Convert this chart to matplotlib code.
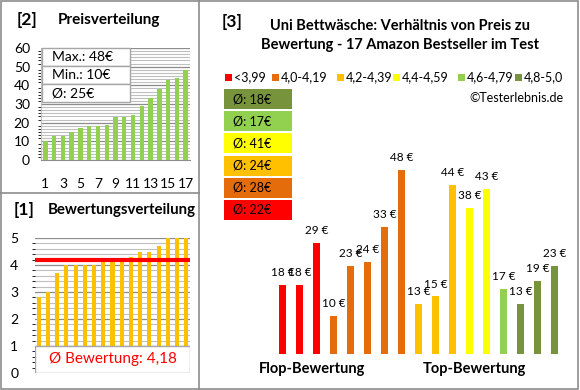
import numpy as np
import matplotlib
matplotlib.use("Agg")
import matplotlib.pyplot as plt
import matplotlib.patches as patches

plt.rcParams['font.family'] = ['Lato', 'DejaVu Sans']

# ---- data ----
preise_sortiert = [10, 13, 13, 15, 17, 18, 18, 19, 23, 23, 24, 29, 33, 38, 43, 44, 48]
bewertungen_sortiert = [2.8, 3.0, 3.7, 4.0, 4.0, 4.0, 4.0, 4.15, 4.15, 4.15, 4.3, 4.5, 4.5, 4.7, 5.0, 5.0, 5.0]
bewertung_mittel = 4.18
preis_stats = ["Max.: 48€", "Min.: 10€", "Ø: 25€"]

preise = [18, 18, 29, 10, 23, 24, 33, 48, 13, 15, 44, 38, 43, 17, 13, 19, 23]
klassen = [0, 0, 0, 1, 1, 1, 1, 1, 2, 2, 2, 3, 3, 4, 5, 5, 5]
klassen_labels = ["<3,99", "4,0-4,19", "4,2-4,39", "4,4-4,59", "4,6-4,79", "4,8-5,0"]
klassen_farben = ["#FF0000", "#E46C0A", "#FFC000", "#FFFF00", "#92D050", "#77933C"]
klassen_mittel = ["Ø: 22€", "Ø: 28€", "Ø: 24€", "Ø: 41€", "Ø: 17€", "Ø: 18€"]

W, H = 580, 390
fig = plt.figure(figsize=(W / 100, H / 100), dpi=100)


def px(x0, y0, x1, y1):
    return [x0 / W, 1 - y1 / H, (x1 - x0) / W, (y1 - y0) / H]


def fx(x):
    return x / W


def fy(y):
    return 1 - y / H


def fbox(x0, y0, x1, y1, **kw):
    # rectangle in pixel coords (top-left origin) on the figure
    fig.patches.append(patches.Rectangle((fx(x0), fy(y1)), fx(x1) - fx(x0), fy(y0) - fy(y1),
                                         transform=fig.transFigure, **kw))


# panel borders
grau = "#8C8C8C"
fbox(1, 1, 578, 389, fill=False, edgecolor=grau, lw=1.2)
fig.add_artist(plt.Line2D([fx(199), fx(199)], [fy(0), fy(390)], color=grau, lw=1.2))
fig.add_artist(plt.Line2D([fx(0), fx(199)], [fy(193), fy(193)], color=grau, lw=1.2))

# ---------- [2] Preisverteilung ----------
ax2 = fig.add_axes(px(41, 48, 190, 160))
x = np.arange(1, len(preise_sortiert) + 1)
ax2.bar(x, preise_sortiert, width=0.5, color="#92D050", zorder=3)
ax2.set_xlim(0.5, 17.5)
ax2.set_ylim(0, 60)
ax2.set_yticks(np.arange(0, 61, 10))
ax2.set_yticks(np.arange(0, 60, 10 / 6), minor=True)
ax2.set_xticks(x[::2])
ax2.grid(axis='y', which='minor', color="#BFBFBF", lw=0.8, zorder=0)
ax2.grid(axis='y', which='major', color="#8C8C8C", lw=0.9, zorder=0)
for s in ["top", "right"]:
    ax2.spines[s].set_visible(False)
ax2.spines["left"].set_color("#BFBFBF")
ax2.spines["bottom"].set_color("#8C8C8C")
ax2.tick_params(length=0, labelsize=10, pad=8)
ax2.tick_params(axis='x', pad=13)

# stats table
tab_y = [48, 66, 84, 102]
for i, t in enumerate(preis_stats):
    fbox(42, tab_y[i], 130, tab_y[i + 1], facecolor="white", edgecolor="#A6A6A6", lw=1, zorder=5)
    fig.text(fx(52), fy((tab_y[i] + tab_y[i + 1]) / 2), t, fontsize=10, va="center", zorder=6)

fig.text(fx(17), fy(20), "[2]", fontsize=12.5, fontweight="bold", va="center")
fig.text(fx(58), fy(20), "Preisverteilung", fontsize=11, fontweight="bold", va="center")

# ---------- [1] Bewertungsverteilung ----------
ax1 = fig.add_axes(px(35, 238, 190, 373))
x = np.arange(1, len(bewertungen_sortiert) + 1)
ax1.bar(x, bewertungen_sortiert, width=0.45, color="#FFC000", zorder=3)
ax1.set_xlim(0.6, 17.4)
ax1.set_ylim(0, 5)
ax1.set_yticks(np.arange(0, 6, 1))
ax1.set_yticklabels([str(v) for v in range(6)])
ax1.set_yticks(np.arange(0, 5, 0.2), minor=True)
ax1.set_xticks([])
ax1.grid(axis='y', which='minor', color="#BFBFBF", lw=0.8, zorder=0)
ax1.grid(axis='y', which='major', color="#8C8C8C", lw=0.9, zorder=0)
for s in ["top", "right", "bottom", "left"]:
    ax1.spines[s].set_visible(False)
ax1.tick_params(length=0, labelsize=10, pad=12)
ax1.plot([0.85, 17.15], [bewertung_mittel, bewertung_mittel], color="#FF0000", lw=3, zorder=4)
ax1.add_patch(patches.Rectangle((0.6, 0), 16.8, 1, facecolor="white", edgecolor="#A6A6A6", lw=1, zorder=5))
ax1.text(9, 0.5, "Ø Bewertung: " + f"{bewertung_mittel:.2f}".replace(".", ","),
         color="#FF0000", fontsize=11, ha="center", va="center", zorder=6)

fig.text(fx(14), fy(210), "[1]", fontsize=12.5, fontweight="bold", va="center")
fig.text(fx(48), fy(210), "Bewertungsverteilung", fontsize=10.8, fontweight="bold", va="center")

# ---------- [3] Preis vs Bewertung ----------
ax3 = fig.add_axes(px(270, 140, 565, 354))
pos = np.arange(len(preise))
farben = [klassen_farben[k] for k in klassen]
bars = ax3.bar(pos, preise, width=0.41, color=farben)
ax3.set_xlim(-0.735, 16.62)
ax3.set_ylim(0, 55.8)
ax3.axis("off")
for b, p in zip(bars, preise):
    ax3.annotate(f"{p} €", (b.get_x() + b.get_width() / 2, p), xytext=(0, 5), textcoords="offset points",
                 ha="center", va="bottom", fontsize=8.5)

fig.text(fx(222), fy(22), "[3]", fontsize=12.5, fontweight="bold", va="center")
fig.text(fx(400), fy(26), "Uni Bettwäsche: Verhältnis von Preis zu", fontsize=10.5, fontweight="bold",
         ha="center", va="center")
fig.text(fx(400), fy(45), "Bewertung - 17 Amazon Bestseller im Test", fontsize=10.5, fontweight="bold",
         ha="center", va="center")

# legend row
leg_x = [225, 272, 337, 393, 458, 515]
for lx, lab, c in zip(leg_x, klassen_labels, klassen_farben):
    fbox(lx, 74, lx + 7, 81, facecolor=c, edgecolor="none")
    fig.text(fx(lx + 9), fy(77), lab, fontsize=9, va="center")

fig.text(fx(563), fy(98), "©Testerlebnis.de", fontsize=9, ha="right", va="center")

# average boxes (best class on top)
for i, k in enumerate(range(len(klassen_labels) - 1, -1, -1)):
    y0 = 89 + i * 22.2
    fbox(224, y0, 292, y0 + 20, facecolor=klassen_farben[k], edgecolor="none")
    fig.text(fx(233), fy(y0 + 10), klassen_mittel[k], fontsize=9, va="center")

fig.text(fx(312), fy(369), "Flop-Bewertung", fontsize=10.5, fontweight="bold", ha="center", va="center")
fig.text(fx(474), fy(369), "Top-Bewertung", fontsize=10.5, fontweight="bold", ha="center", va="center")

fig.savefig("out.png", dpi=100)
